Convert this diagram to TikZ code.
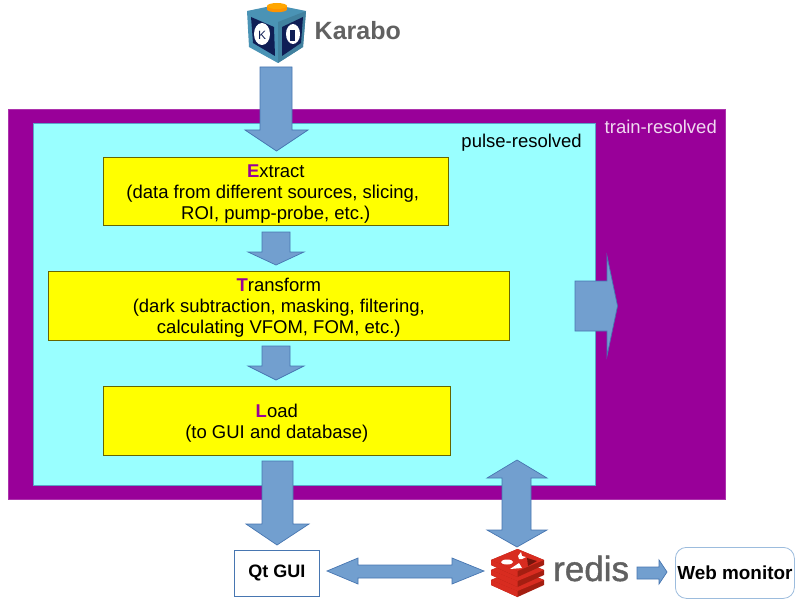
\documentclass[tikz,border=0pt]{standalone}
\usepackage{fontspec}
\setmainfont{Liberation Sans}
\definecolor{outerp}{HTML}{990099}
\definecolor{innerc}{HTML}{99FFFF}
\definecolor{boxy}{HTML}{FFFF00}
\definecolor{arrowb}{HTML}{729FCF}
\definecolor{arrowe}{HTML}{3465A4}
\definecolor{redis1}{HTML}{D82C20}
\definecolor{redis2}{HTML}{A41E11}
\definecolor{cubeb}{HTML}{4A93B5}
\definecolor{cubed}{HTML}{0F1E55}
\tikzset{
  blockarrow/.style={fill=arrowb,draw=arrowe!70!arrowb,line width=0.7pt,line join=miter},
  stepbox/.style={draw=black!60!boxy,fill=boxy,line width=0.6pt,align=center,font=\fontsize{18.5}{21}\selectfont,inner sep=0pt},
  plainbox/.style={draw=arrowe!70!arrowb,fill=white,line width=0.8pt,font=\fontsize{18}{20}\selectfont\bfseries,inner sep=0pt},
}
\newcommand{\firstl}[1]{\rule{0pt}{18pt}\textcolor{outerp}{\textbf{#1}}}
\begin{document}
\begin{tikzpicture}[x=1pt,y=-1pt]
\useasboundingbox (0,0) rectangle (800,607);
\fill[white] (0,0) rectangle (800,607);
% regions
\draw[fill=outerp,draw=outerp!80!white,line width=0.5pt] (8,109) rectangle (725,499);
\draw[fill=innerc,draw=arrowe!60!innerc,line width=0.5pt] (33,123) rectangle (595,485);
\node[anchor=base east,text=white!85!outerp,font=\fontsize{18.5}{21}\selectfont,inner sep=0pt] (train) at (717,133) {train-resolved};
\node[anchor=base east,text=black,font=\fontsize{18.5}{21}\selectfont,inner sep=0pt] (pulse) at (582,147) {pulse-resolved};
% boxes
\node[stepbox,minimum width=345pt,minimum height=68pt,anchor=north west] (extract) at (103,157)
  {\firstl{E}xtract\\(data from different sources, slicing,\hspace*{6pt}\mbox{}\\ROI, pump-probe, etc.)};
\node[stepbox,minimum width=461pt,minimum height=69pt,anchor=north west] (transform) at (48,271)
  {\firstl{T}ransform\\(dark subtraction, masking, filtering,\\calculating VFOM, FOM, etc.)};
\node[stepbox,minimum width=347pt,minimum height=69pt,anchor=north west] (load) at (103,386)
  {\firstl{L}oad\\(to GUI and database)};
% arrows
\draw[blockarrow] (260,67)--(292,67)--(292,130)--(308,130)--(276.5,151)--(245,130)--(260,130)--cycle;
\draw[blockarrow] (262,232)--(290,232)--(290,252)--(304,252)--(276,265)--(248,252)--(262,252)--cycle;
\draw[blockarrow] (262,346)--(290,346)--(290,366)--(304,366)--(276,380)--(248,366)--(262,366)--cycle;
\draw[blockarrow] (575,281)--(607,281)--(607,256)--(617.5,306)--(607,356)--(607,331)--(575,331)--cycle;
\draw[blockarrow] (262,461)--(293,461)--(293,524)--(309,524)--(277,545)--(246,524)--(262,524)--cycle;
\draw[blockarrow] (517,460)--(547,478)--(531,478)--(531,530)--(547,530)--(517,547)--(487,530)--(502,530)--(502,478)--(487,478)--cycle;
\draw[blockarrow] (327,571)--(358,558)--(358,565)--(452,565)--(452,558)--(484,571)--(452,584)--(452,578)--(358,578)--(358,584)--cycle;
\draw[blockarrow] (637,567)--(659,567)--(659,560)--(667,572)--(659,584)--(659,579)--(637,579)--cycle;
% bottom boxes
\node[plainbox,minimum width=85pt,minimum height=46pt,anchor=north west] (qt) at (234,550) {Qt GUI};
\node[plainbox,draw=arrowb!70!white,rounded corners=11pt,minimum width=119pt,minimum height=51pt,anchor=north west,font=\fontsize{18.9}{20}\selectfont\bfseries] (web) at (675,547) {Web monitor};
% Karabo logo
\fill[cubeb] (247,11)--(276,5)--(306,11)--(303,47)--(278,63)--(249,47)--cycle;
\fill[cubeb!88!black] (278,22)--(306,11)--(303,47)--(278,63)--cycle;
\fill[cubed] (251,17)--(274,27)--(275,56)--(253,43)--cycle;
\fill[cubed] (282,27)--(303,17)--(301,43)--(282,56)--cycle;
\fill[white] (262,34) ellipse (8 and 11);
\fill[white] (293,34) ellipse (7 and 10);
\node[font=\fontsize{12}{12}\selectfont,text=cubed,inner sep=0pt] (klogo) at (262,35) {K};
\fill[cubed] (290,30) rectangle (295,41);
\fill[orange!85!yellow] (267,6) rectangle (287,9.5);
\fill[orange!85!yellow] (277,9.5) ellipse (10 and 2.7);
\fill[orange!70!yellow] (277,6) ellipse (10 and 3);
\node[anchor=base west,text=black!62,font=\fontsize{25}{28}\selectfont\bfseries,inner sep=0pt] (karabo) at (314.5,40) {Karabo};
% redis logo
\foreach \yy in {20,10,0}{
  \fill[redis2] (491,560+\yy)--(517.5,549+\yy)--(544,560+\yy)--(544,565+\yy)--(517.5,577+\yy)--(491,565+\yy)--cycle;
  \fill[redis1] (491,560+\yy)--(517.5,549+\yy)--(544,560+\yy)--(517.5,571+\yy)--cycle;
  \fill[redis1] (491,560+\yy)--(491,565+\yy)--(517.5,577+\yy)--(517.5,571+\yy)--cycle;
}
\fill[white] (507,562) ellipse (6 and 2.5);
\fill[white] (518,556) -- (521,552) -- (522,556) -- (526,557) -- (522,559) -- (519,559) -- cycle;
\fill[white] (510,569) -- (522,568) -- (519,563) -- cycle;
\fill[redis2!70!black] (527,558) -- (537,561) -- (528,566) -- cycle;
\node[anchor=base west,text=black!62,font=\fontsize{35}{36}\selectfont,inner sep=0pt] (redis) at (553,581) {\addfontfeature{FakeBold=1.2}redis};
\end{tikzpicture}
\end{document}
